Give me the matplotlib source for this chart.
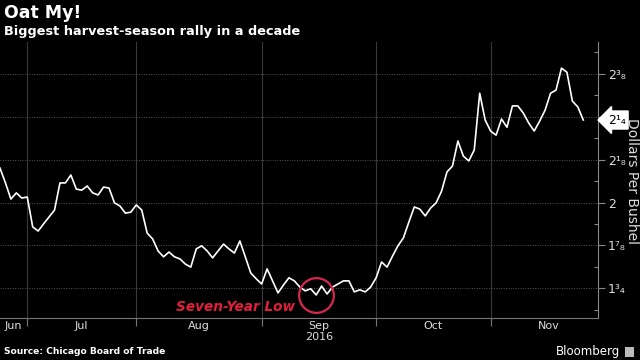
import matplotlib
matplotlib.use("Agg")
import matplotlib.pyplot as plt
import matplotlib.transforms as mtransforms
import numpy as np
import pandas as pd

# ---- data ----
values = [
    2.100, 2.057, 2.010, 2.028, 2.013, 2.016, 1.929, 1.917, 1.938, 1.958,
    1.978, 2.057, 2.057, 2.080, 2.039, 2.036, 2.048, 2.028, 2.022, 2.045,
    2.042, 1.999, 1.990, 1.969, 1.972, 1.993, 1.978, 1.911, 1.894, 1.859,
    1.842, 1.856, 1.842, 1.836, 1.821, 1.812, 1.865, 1.874, 1.859, 1.839,
    1.859, 1.879, 1.865, 1.853, 1.888, 1.842, 1.795, 1.778, 1.763, 1.807,
    1.772, 1.737, 1.760, 1.781, 1.772, 1.754, 1.743, 1.749, 1.731, 1.757,
    1.734, 1.754, 1.763, 1.772, 1.772, 1.740, 1.746, 1.740, 1.754, 1.781,
    1.827, 1.812, 1.844, 1.874, 1.897, 1.943, 1.987, 1.981, 1.961, 1.984,
    1.999, 2.033, 2.089, 2.106, 2.179, 2.135, 2.121, 2.153, 2.318, 2.240,
    2.208, 2.196, 2.243, 2.219, 2.281, 2.281, 2.260, 2.231, 2.208, 2.237,
    2.269, 2.318, 2.327, 2.391, 2.379, 2.295, 2.278, 2.240,
]
holidays = ["2016-07-04", "2016-09-05", "2016-11-24"]
dates = pd.bdate_range("2016-06-24", "2016-12-31", freq="C", holidays=holidays)[:len(values)]
ytick_vals = [1.75, 1.875, 2.0, 2.125, 2.25, 2.375]
ytick_labels = ["1\u00b3\u2084", "1\u2077\u2088", "2", "2\u00b9\u2088", "2\u00bc", "2\u00b3\u2088"]
last_label = "2\u00b9\u2084"
title = "Oat My!"
subtitle = "Biggest harvest-season rally in a decade"
source = "Source: Chicago Board of Trade"
annot = "Seven-Year Low"
ylabel = "Dollars Per Bushel"

# ---- figure ----
BG = "black"
fig = plt.figure(figsize=(6.4, 3.6), dpi=100, facecolor=BG)
ax = fig.add_axes([0.0, 1 - 318 / 360, 598 / 640, (318 - 42) / 360], facecolor=BG)

x = np.arange(len(values))
ax.plot(x, values, color="white", lw=1.2, zorder=3)

xmax = 109.7
ax.set_xlim(0, xmax)
ax.set_ylim(1.664, 2.467)

# month boundaries
months = np.array([d.month for d in dates])
bounds = [i for i in range(1, len(months)) if months[i] != months[i - 1]]
edges = [0] + bounds + [xmax + 1.5]
mids = [(edges[k] + edges[k + 1]) / 2 for k in range(len(edges) - 1)]
mnames = [dates[0].strftime("%b")] + [dates[b].strftime("%b") for b in bounds]

ax.set_xticks(bounds)
ax.set_xticklabels([])
ax.set_xticks(mids, minor=True)
ax.set_xticklabels(mnames, minor=True)
ax.tick_params(axis="x", which="major", length=6, color="#777777", width=0.8)
ax.tick_params(axis="x", which="minor", length=0, labelsize=8, labelcolor="#dddddd", pad=2)
for b in bounds:
    ax.axvline(b, color="#3a3a3a", lw=0.8, zorder=1)

# year label under Sep
sep_idx = mnames.index("Sep")
trans = mtransforms.blended_transform_factory(ax.transData, fig.transFigure)
ax.text(mids[sep_idx], 1 - 337 / 360, "2016", transform=trans, ha="center", va="center",
        fontsize=8, color="#dddddd")

# y axis on right
ax.yaxis.tick_right()
ax.set_yticks(ytick_vals)
ax.set_yticklabels(ytick_labels)
ax.set_yticks(np.arange(1.6875, 2.47, 0.125), minor=True)
ax.tick_params(axis="y", which="major", length=5, color="#888888", width=0.8,
               labelsize=9, labelcolor="#dddddd", pad=2)
ax.tick_params(axis="y", which="minor", length=3, color="#888888", width=0.8, direction="in")
for v in ytick_vals:
    ax.axhline(v, color="#555555", lw=0.7, ls=(0, (1, 1.5)), zorder=1)
fig.text(632 / 640, 1 - 181 / 360, ylabel, rotation=-90, color="#dddddd", fontsize=10,
         ha="center", va="center")

for s in ["left", "top"]:
    ax.spines[s].set_visible(False)
ax.spines["right"].set_color("#888888")
ax.spines["bottom"].set_color("#777777")

# last value box
ax.annotate(last_label, xy=(1.0, values[-1]), xycoords=("axes fraction", "data"),
            xytext=(7, 0), textcoords="offset points", ha="left", va="center",
            fontsize=9, color="black", annotation_clip=False, zorder=5,
            bbox=dict(boxstyle="larrow,pad=0.2", fc="white", ec="white"))

# seven-year low
imin = int(np.argmin(values))
RED = "#e0203c"
ax.plot([imin], [values[imin]], marker="o", ms=25, mfc="none", mec="#d62850", mew=1.6, zorder=4)
ax.annotate(annot, xy=(imin, values[imin]), xytext=(-15, -9), textcoords="offset points",
            ha="right", va="center", fontsize=9.8, color=RED, fontweight="bold",
            fontstyle="italic")

# texts
fig.text(4 / 640, 1 - 13 / 360, title, color="white", fontsize=12.5, fontweight="bold",
         ha="left", va="center")
fig.text(4 / 640, 1 - 32 / 360, subtitle, color="white", fontsize=9.3, fontweight="bold",
         ha="left", va="center")
fig.text(4 / 640, 1 - 352 / 360, source, color="white", fontsize=6.6, fontweight="bold",
         ha="left", va="center")
fig.text(620 / 640, 1 - 352 / 360, "Bloomberg", color="white", fontsize=8.5,
         ha="right", va="center")
fig.patches.append(plt.Rectangle((625 / 640, 1 - 357 / 360), 9 / 640, 10 / 360,
                                 transform=fig.transFigure, fc="#bbbbbb", ec="none"))

fig.savefig("out.png", dpi=100, facecolor=BG)
